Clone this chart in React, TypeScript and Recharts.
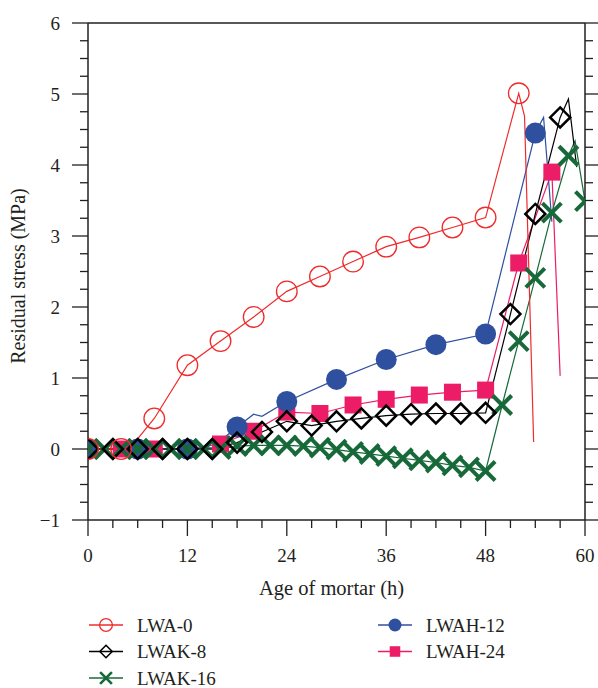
import { LineChart, Line, XAxis, YAxis, Legend } from "recharts";

// ── measured residual stress (MPa) vs. age (h); dot:false = line vertex without marker ──
const lwa0 = [
  { h: 0, v: 0 }, { h: 4, v: 0 }, { h: 5, v: 0, dot: false }, { h: 8, v: 0.43 },
  { h: 12, v: 1.18 }, { h: 16, v: 1.52 }, { h: 20, v: 1.86 }, { h: 24, v: 2.22 },
  { h: 28, v: 2.43 }, { h: 32, v: 2.64 }, { h: 36, v: 2.85 }, { h: 40, v: 2.98 },
  { h: 44, v: 3.12 }, { h: 48, v: 3.26 }, { h: 52, v: 5.01 },
  { h: 52.7, v: 4.69, dot: false }, { h: 53.8, v: 0.1, dot: false },
];

const lwak8 = [
  { h: 0, v: 0 }, { h: 3, v: 0 }, { h: 6, v: 0 }, { h: 9, v: 0 }, { h: 12, v: 0 },
  { h: 15, v: 0 }, { h: 18, v: 0.09 }, { h: 21, v: 0.24 }, { h: 24, v: 0.39 },
  { h: 27, v: 0.33 }, { h: 30, v: 0.39 }, { h: 33, v: 0.43 }, { h: 36, v: 0.47 },
  { h: 39, v: 0.49 }, { h: 42, v: 0.5 }, { h: 45, v: 0.5 }, { h: 48, v: 0.51 },
  { h: 51, v: 1.9 }, { h: 54, v: 3.31 }, { h: 57, v: 4.67 },
  { h: 58, v: 4.93, dot: false }, { h: 59, v: 3.97, dot: false },
];

const lwak16 = [
  { h: 0, v: 0 }, { h: 2, v: 0 }, { h: 4, v: 0 }, { h: 6, v: 0 }, { h: 8, v: 0 },
  { h: 10, v: 0 }, { h: 12, v: 0 }, { h: 14, v: 0 }, { h: 16, v: 0 }, { h: 18, v: 0.04 },
  { h: 20, v: 0.05 }, { h: 22, v: 0.05 }, { h: 24, v: 0.05 }, { h: 26, v: 0.04 },
  { h: 28, v: 0.02 }, { h: 30, v: -0.01 }, { h: 32, v: -0.04 }, { h: 34, v: -0.07 },
  { h: 36, v: -0.1 }, { h: 38, v: -0.13 }, { h: 40, v: -0.16 }, { h: 42, v: -0.19 },
  { h: 44, v: -0.23 }, { h: 46, v: -0.26 }, { h: 48, v: -0.31 }, { h: 50, v: 0.62 },
  { h: 52, v: 1.52 }, { h: 54, v: 2.41 }, { h: 56, v: 3.33 }, { h: 58, v: 4.13 },
  { h: 58.8, v: 4.34, dot: false }, { h: 60, v: 3.49 },
];

const lwah12 = [
  { h: 0, v: 0 }, { h: 6, v: 0 }, { h: 12, v: 0 }, { h: 15, v: 0.02, dot: false },
  { h: 18, v: 0.31 }, { h: 20, v: 0.49, dot: false }, { h: 21, v: 0.46, dot: false },
  { h: 24, v: 0.67 }, { h: 30, v: 0.98 }, { h: 36, v: 1.26 }, { h: 42, v: 1.47 },
  { h: 48, v: 1.62 }, { h: 54, v: 4.45 }, { h: 55, v: 4.67, dot: false },
  { h: 56, v: 3.2, dot: false },
];

const lwah24 = [
  { h: 0, v: 0 }, { h: 4, v: 0 }, { h: 8, v: 0 }, { h: 12, v: 0 }, { h: 16, v: 0.07 },
  { h: 20, v: 0.25 }, { h: 24, v: 0.52 }, { h: 28, v: 0.5 }, { h: 32, v: 0.62 },
  { h: 36, v: 0.7 }, { h: 40, v: 0.76 }, { h: 44, v: 0.8 }, { h: 48, v: 0.83 },
  { h: 52, v: 2.62 }, { h: 56, v: 3.9 }, { h: 57, v: 1.03, dot: false },
];

// ── axis ticks ──
const xMajor = [0, 12, 24, 36, 48, 60];
const yMajor = [-1, 0, 1, 2, 3, 4, 5, 6];
const xTicks = Array.from({ length: 21 }, (_, i) => i * 3);
const yTicks = Array.from({ length: 29 }, (_, i) => -1 + i * 0.25);

const INK = "#231f20";
const FONT = '"Liberation Serif", "Times New Roman", serif';

type Shape = "ring" | "diamond" | "cross" | "disc" | "square";

// draw order: bottom → top
const series: { name: string; data: any[]; color: string; shape: Shape }[] = [
  { name: "LWAH-24", data: lwah24, color: "#ec1c66", shape: "square" },
  { name: "LWAH-12", data: lwah12, color: "#2f4f9f", shape: "disc" },
  { name: "LWAK-16", data: lwak16, color: "#17693a", shape: "cross" },
  { name: "LWAK-8", data: lwak8, color: "#000000", shape: "diamond" },
  { name: "LWA-0", data: lwa0, color: "#ef2b2b", shape: "ring" },
];

const legendLeft = ["LWA-0", "LWAK-8", "LWAK-16"];
const legendRight = ["LWAH-12", "LWAH-24"];

function Marker({ shape, color, cx, cy, k = 1 }: { shape: Shape; color: string; cx: number; cy: number; k?: number }) {
  if (shape === "ring") return <circle cx={cx} cy={cy} r={10.3 * k} fill="none" stroke={color} strokeWidth={1.3} />;
  if (shape === "disc") return <circle cx={cx} cy={cy} r={10.5 * k} fill={color} />;
  if (shape === "square") {
    const s = 8.5 * k;
    return <rect x={cx - s} y={cy - s} width={2 * s} height={2 * s} fill={color} />;
  }
  if (shape === "diamond") {
    const s = 10 * k;
    return (
      <path d={`M${cx} ${cy - s}L${cx + s} ${cy}L${cx} ${cy + s}L${cx - s} ${cy}Z`}
        fill="none" stroke={color} strokeWidth={2.5 * Math.max(k, 0.6)} />
    );
  }
  const s = 9.5 * k;
  return (
    <g stroke={color} strokeWidth={4 * Math.max(k, 0.65)}>
      <line x1={cx - s} y1={cy - s} x2={cx + s} y2={cy + s} />
      <line x1={cx - s} y1={cy + s} x2={cx + s} y2={cy - s} />
    </g>
  );
}

// ticks: major long with label, minor short; all pointing out of the frame
function BottomTick({ x, y, payload }: any) {
  const major = xMajor.includes(payload.value);
  return (
    <g>
      <line x1={x} y1={y} x2={x} y2={y + (major ? 16 : 8)} stroke={INK} strokeWidth={1.3} />
      {major && (
        <text x={x} y={y + 42} textAnchor="middle" fontSize={19} fill={INK} fontFamily={FONT}>
          {payload.value}
        </text>
      )}
    </g>
  );
}

function TopTick({ x, y, payload }: any) {
  const major = xMajor.includes(payload.value);
  return <line x1={x} y1={y} x2={x} y2={y - (major ? 16 : 8)} stroke={INK} strokeWidth={1.3} />;
}

function LeftTick({ x, y, payload }: any) {
  const major = yMajor.includes(payload.value);
  const v = payload.value;
  return (
    <g>
      <line x1={x - (major ? 16 : 8)} y1={y} x2={x} y2={y} stroke={INK} strokeWidth={1.3} />
      {major && (
        <text x={x - 28} y={y + 7} textAnchor="end" fontSize={19} fill={INK} fontFamily={FONT}>
          {v < 0 ? `\u2212${Math.abs(v)}` : v}
        </text>
      )}
    </g>
  );
}

function RightTick({ x, y, payload }: any) {
  const major = yMajor.includes(payload.value);
  return <line x1={x} y1={y} x2={x + (major ? 16 : 8)} y2={y} stroke={INK} strokeWidth={1.3} />;
}

function LegendRow({ name, x, y }: { name: string; x: number; y: number }) {
  const s = series.find((d) => d.name === name)!;
  return (
    <g>
      <line x1={x} y1={y} x2={x + 34} y2={y} stroke={s.color} strokeWidth={1.3} />
      <Marker shape={s.shape} color={s.color} cx={x + 17} cy={y} k={0.62} />
      <text x={x + 48} y={y + 6.5} fontSize={19} fill={INK} fontFamily={FONT}>{name}</text>
    </g>
  );
}

function renderLegend() {
  return (
    <svg width={598} height={88}>
      {legendLeft.map((n, i) => <LegendRow key={n} name={n} x={89} y={25 + i * 26.5} />)}
      {legendRight.map((n, i) => <LegendRow key={n} name={n} x={378} y={25 + i * 26.5} />)}
    </svg>
  );
}

const axisLine = { stroke: INK, strokeWidth: 1.5 };

export default function App() {
  return (
    <div style={{ position: "fixed", left: 0, top: 0, width: 598, height: 688, background: "#fff", fontFamily: FONT }}>
      <LineChart width={598} height={688} margin={{ top: 0, right: 0, bottom: 0, left: 0 }}>
        <XAxis xAxisId="b" dataKey="h" type="number" domain={[0, 60]} ticks={xTicks} interval={0}
          height={168} axisLine={axisLine} tickLine={false} tickSize={0} tickMargin={0} tick={<BottomTick />}
          allowDataOverflow
          label={{
            content: ({ viewBox }: any) => (
              <text x={viewBox.x + viewBox.width / 2 - 5} y={viewBox.y + 75} textAnchor="middle"
                fontSize={20.5} fill={INK} fontFamily={FONT}>Age of mortar (h)</text>
            ),
          }} />
        <XAxis xAxisId="t" orientation="top" type="number" domain={[0, 60]} ticks={xTicks} interval={0}
          height={23} axisLine={axisLine} tickLine={false} tickSize={0} tickMargin={0} tick={<TopTick />}
          allowDataOverflow />
        <YAxis yAxisId="l" type="number" domain={[-1, 6]} ticks={yTicks} interval={0}
          width={88} axisLine={axisLine} tickLine={false} tickSize={0} tickMargin={0} tick={<LeftTick />}
          allowDataOverflow
          label={{
            content: ({ viewBox }: any) => {
              const cx = viewBox.x + 25;
              const cy = viewBox.y + 253;
              return (
                <text x={cx} y={cy} transform={`rotate(-90 ${cx} ${cy})`} textAnchor="middle"
                  fontSize={20} fill={INK} fontFamily={FONT}>Residual stress (MPa)</text>
              );
            },
          }} />
        <YAxis yAxisId="r" orientation="right" type="number" domain={[-1, 6]} ticks={yTicks} interval={0}
          width={13} axisLine={axisLine} tickLine={false} tickSize={0} tickMargin={0} tick={<RightTick />}
          allowDataOverflow />
        {series.map((s) => (
          <Line
            key={s.name}
            xAxisId="b"
            yAxisId="l"
            data={s.data}
            dataKey="v"
            name={s.name}
            type="linear"
            stroke={s.color}
            strokeWidth={1.2}
            isAnimationActive={false}
            dot={(p: any) =>
              p.payload.dot === false ? (
                <g key={`${s.name}-${p.index}`} />
              ) : (
                <Marker key={`${s.name}-${p.index}`} shape={s.shape} color={s.color} cx={p.cx} cy={p.cy} />
              )
            }
          />
        ))}
        <Legend layout="horizontal" verticalAlign="middle" align="center"
          wrapperStyle={{ left: 0, top: 600, width: 598, height: 88 }} content={renderLegend} />
      </LineChart>
    </div>
  );
}
